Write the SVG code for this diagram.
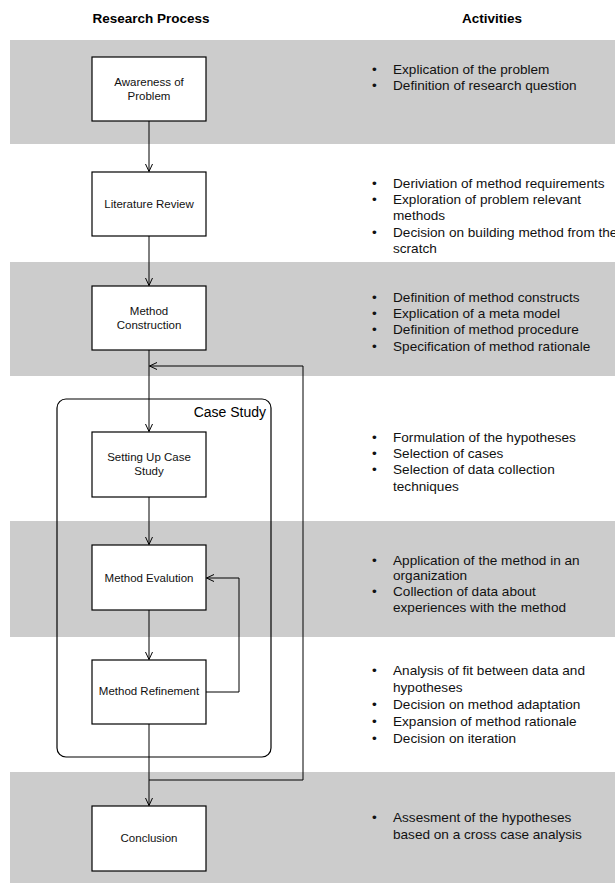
<svg xmlns="http://www.w3.org/2000/svg" width="615" height="883" viewBox="0 0 615 883">
<style>
.band{fill:#cccccc}
.node rect{fill:#ffffff;stroke:#000000;stroke-width:1.2}
.nt{font-family:"Liberation Sans",Arial,sans-serif;font-size:11.5px;fill:#111111;text-anchor:middle}
.hd{font-family:"Liberation Sans",Arial,sans-serif;font-size:13.5px;font-weight:bold;fill:#000000;text-anchor:middle}
.act{font-family:"Liberation Sans",Arial,sans-serif;font-size:13.6px;fill:#111111}
.bul{font-family:"Liberation Sans",Arial,sans-serif;font-size:13.6px;fill:#111111}
.conn path{fill:none;stroke:#000000;stroke-width:1}
.cs{fill:none;stroke:#000000;stroke-width:1.2}
.cst{font-family:"Liberation Sans",Arial,sans-serif;font-size:14px;fill:#000000;text-anchor:end}
</style>
<defs>
<marker id="arr" viewBox="0 0 8 8" refX="7.5" refY="4" markerWidth="8" markerHeight="8" markerUnits="userSpaceOnUse" orient="auto">
<path d="M0,0.5 L7.5,4 L0,7.5" fill="none" stroke="#000000" stroke-width="1"/>
</marker>
</defs>
<rect width="615" height="883" fill="#ffffff"/>
<g id="bands">
<rect class="band" x="10" y="40" width="605" height="104"/>
<rect class="band" x="10" y="262" width="605" height="114"/>
<rect class="band" x="10" y="521" width="605" height="116"/>
<rect class="band" x="10" y="772" width="605" height="111"/>
</g>
<g id="headers">
<text class="hd" x="151" y="23">Research Process</text>
<text class="hd" x="492" y="23">Activities</text>
</g>
<g id="case-study">
<rect class="cs" x="57" y="399" width="214" height="358" rx="9" ry="9"/>
<text class="cst" x="266" y="417">Case Study</text>
</g>
<g id="connectors" class="conn">
<path d="M149,121 V171.5" marker-end="url(#arr)"/>
<path d="M149,236 V285.5" marker-end="url(#arr)"/>
<path d="M149,350 V431.5" marker-end="url(#arr)"/>
<path d="M149,497 V544.5" marker-end="url(#arr)"/>
<path d="M149,610 V659.5" marker-end="url(#arr)"/>
<path d="M149,724 V805.5" marker-end="url(#arr)"/>
<path d="M149,780 H303 V366 H149.5" marker-end="url(#arr)"/>
<path d="M206,692 H239 V578 H206.5" marker-end="url(#arr)"/>
</g>
<g id="node-awareness" class="node">
<rect x="92" y="57" width="114" height="64"/>
<text class="nt" x="149" y="86">Awareness of</text>
<text class="nt" x="149" y="100">Problem</text>
</g>
<g id="node-literature" class="node">
<rect x="92" y="172" width="114" height="64"/>
<text class="nt" x="149" y="208">Literature Review</text>
</g>
<g id="node-construction" class="node">
<rect x="92" y="286" width="114" height="64"/>
<text class="nt" x="149" y="315">Method</text>
<text class="nt" x="149" y="329">Construction</text>
</g>
<g id="node-setup" class="node">
<rect x="92" y="432" width="114" height="65"/>
<text class="nt" x="149" y="461">Setting Up Case</text>
<text class="nt" x="149" y="475">Study</text>
</g>
<g id="node-evaluation" class="node">
<rect x="92" y="545" width="114" height="65"/>
<text class="nt" x="149" y="582">Method Evalution</text>
</g>
<g id="node-refinement" class="node">
<rect x="92" y="660" width="114" height="64"/>
<text class="nt" x="149" y="695">Method Refinement</text>
</g>
<g id="node-conclusion" class="node">
<rect x="92" y="806" width="114" height="65"/>
<text class="nt" x="149" y="842">Conclusion</text>
</g>
<g id="activities">
<g id="act-1">
<text class="bul" x="372" y="74">•</text><text class="act" x="393" y="74">Explication of the problem</text>
<text class="bul" x="372" y="90">•</text><text class="act" x="393" y="90">Definition of research question</text>
</g>
<g id="act-2">
<text class="bul" x="372" y="188">•</text><text class="act" x="393" y="188">Deriviation of method requirements</text>
<text class="bul" x="372" y="204">•</text><text class="act" x="393" y="204">Exploration of problem relevant</text>
<text class="act" x="393" y="220">methods</text>
<text class="bul" x="372" y="237">•</text><text class="act" x="393" y="237">Decision on building method from the</text>
<text class="act" x="393" y="253">scratch</text>
</g>
<g id="act-3">
<text class="bul" x="372" y="302">•</text><text class="act" x="393" y="302">Definition of method constructs</text>
<text class="bul" x="372" y="318">•</text><text class="act" x="393" y="318">Explication of a meta model</text>
<text class="bul" x="372" y="334">•</text><text class="act" x="393" y="334">Definition of method procedure</text>
<text class="bul" x="372" y="351">•</text><text class="act" x="393" y="351">Specification of method rationale</text>
</g>
<g id="act-4">
<text class="bul" x="372" y="442">•</text><text class="act" x="393" y="442">Formulation of the hypotheses</text>
<text class="bul" x="372" y="458">•</text><text class="act" x="393" y="458">Selection of cases</text>
<text class="bul" x="372" y="474">•</text><text class="act" x="393" y="474">Selection of data collection</text>
<text class="act" x="393" y="491">techniques</text>
</g>
<g id="act-5">
<text class="bul" x="372" y="565">•</text><text class="act" x="393" y="565">Application of the method in an</text>
<text class="act" x="393" y="580">organization</text>
<text class="bul" x="372" y="596">•</text><text class="act" x="393" y="596">Collection of data about</text>
<text class="act" x="393" y="612">experiences with the method</text>
</g>
<g id="act-6">
<text class="bul" x="372" y="675">•</text><text class="act" x="393" y="675">Analysis of fit between data and</text>
<text class="act" x="393" y="692">hypotheses</text>
<text class="bul" x="372" y="709">•</text><text class="act" x="393" y="709">Decision on method adaptation</text>
<text class="bul" x="372" y="726">•</text><text class="act" x="393" y="726">Expansion of method rationale</text>
<text class="bul" x="372" y="743">•</text><text class="act" x="393" y="743">Decision on iteration</text>
</g>
<g id="act-7">
<text class="bul" x="372" y="822">•</text><text class="act" x="393" y="822">Assesment of the hypotheses</text>
<text class="act" x="393" y="839">based on a cross case analysis</text>
</g>
</g>
</svg>
